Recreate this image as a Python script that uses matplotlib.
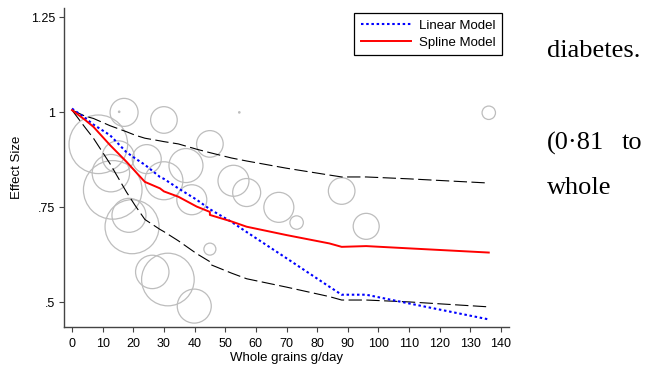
import matplotlib
matplotlib.use("Agg")
import matplotlib.pyplot as plt
import numpy as np

# ---- data ----
dose = [0, 4.3, 7, 12.4, 17.8, 20.6, 23.8, 28.7, 30, 34.7, 40.7, 45, 45,
        52, 57, 70, 84, 88, 96, 110, 136]
linear_model = [1.01, 0.985, 0.968, 0.94, 0.895, 0.879, 0.862, 0.83, 0.825, 0.80,
                0.77, 0.745, 0.745, 0.712, 0.685, 0.616, 0.541, 0.52, 0.52, 0.497, 0.455]
spline_model = [1.006, 0.98, 0.962, 0.914, 0.87, 0.845, 0.817, 0.80, 0.792, 0.778,
                0.752, 0.738, 0.730, 0.713, 0.699, 0.677, 0.655, 0.646, 0.648, 0.642, 0.631]
spline_upper = [1.006, 0.99, 0.984, 0.965, 0.949, 0.94, 0.932, 0.925, 0.923, 0.917,
                0.903, 0.894, 0.894, 0.88, 0.872, 0.853, 0.835, 0.830, 0.830, 0.825, 0.814]
spline_lower = [1.006, 0.96, 0.932, 0.865, 0.79, 0.755, 0.718, 0.692, 0.686, 0.662,
                0.628, 0.607, 0.600, 0.577, 0.562, 0.54, 0.515, 0.506, 0.506, 0.501, 0.488]

study_dose = [17, 30, 8.6, 45, 15.1, 24.4, 37.2, 12.7, 13.3, 30, 39.1, 18.6, 19.6,
              45, 26.2, 31.3, 39.9, 52.7, 57, 67.5, 73.3, 88, 96, 136, 15.4, 54.6]
study_effect = [1.00, 0.98, 0.916, 0.917, 0.883, 0.877, 0.86, 0.84, 0.796, 0.82,
                0.77, 0.729, 0.699, 0.64, 0.58, 0.56, 0.49, 0.82, 0.789, 0.75,
                0.71, 0.793, 0.70, 0.999, 1.0016, 1.0]
study_weight = [19.6, 17.7, 85.8, 17.7, 25.6, 21.0, 28.9, 35.0, 85.8, 36.1, 22.5,
                28.9, 72.9, 3.6, 27.9, 69.2, 28.9, 24.0, 19.6, 22.5, 4.5, 17.7,
                16.9, 4.5, 0.05, 0.05]

xticks = list(range(0, 141, 10))
yticks = [0.5, 0.75, 1.0, 1.25]
ytick_labels = [".5", ".75", "1", "1.25"]

# ---- figure ----
W, H = 655, 365
fig = plt.figure(figsize=(W / 100, H / 100), dpi=100)
ax_l, ax_r, ax_b, ax_t = 63.7, 509, 327, 8.3
ax = fig.add_axes([ax_l / W, 1 - ax_b / H, (ax_r - ax_l) / W, (ax_b - ax_t) / H])
ax.set_xlim(-2.7, 142.6)
ax.set_ylim(0.435, 1.274)

sans = ["Liberation Sans", "DejaVu Sans"]

# bubbles
sizes = np.array(study_weight) * 10 * (2 * 0.72) ** 2
ax.scatter(study_dose, study_effect, s=sizes, facecolors="none",
           edgecolors="#bdbdbd", linewidths=0.9, zorder=1)

# CI lines
ax.plot(dose, spline_upper, color="black", lw=0.8, dashes=(12, 4), zorder=2)
ax.plot(dose, spline_lower, color="black", lw=0.8, dashes=(12, 4), zorder=2)
ax.plot(dose, linear_model, color="blue", lw=1.5, linestyle=(0, (1.2, 1.3)),
        zorder=3, label="Linear Model")
ax.plot(dose, spline_model, color="red", lw=1.4, zorder=3, label="Spline Model")

for s in ["top", "right"]:
    ax.spines[s].set_visible(False)
for s in ["left", "bottom"]:
    ax.spines[s].set_color("#444444")
    ax.spines[s].set_linewidth(1.0)

ax.set_xticks(xticks)
ax.set_xticklabels([str(t) for t in xticks], fontfamily=sans, fontsize=9)
ax.set_yticks(yticks)
ax.set_yticklabels(ytick_labels, fontfamily=sans, fontsize=9)
ax.tick_params(axis="both", direction="out", length=3.6, width=0.8,
               color="#444444", pad=2.5)
ax.tick_params(axis="x", pad=4)
ax.set_xlabel("Whole grains g/day", fontfamily=sans, fontsize=9.5, labelpad=1.5)
ax.set_ylabel("Effect Size", fontfamily=sans, fontsize=9.5, labelpad=6)

leg = ax.legend(loc="upper left", bbox_to_anchor=(354 / W, 1 - 13 / H),
                bbox_transform=fig.transFigure, borderaxespad=0,
                fancybox=False, framealpha=1, edgecolor="black",
                prop={"family": sans, "size": 9.5}, handlelength=3.8,
                handletextpad=0.6, borderpad=0.5, labelspacing=0.35)
leg.get_frame().set_linewidth(0.9)

# right-hand body text fragments
serif = ["Liberation Serif", "DejaVu Serif"]
fig.text(547 / W, 1 - 56.7 / H, "diabetes.", fontfamily=serif, fontsize=19,
         va="baseline", ha="left")
fig.text(547 / W, 1 - 149.3 / H, "(0\u00b781", fontfamily=serif, fontsize=19,
         va="baseline", ha="left")
fig.text(621.7 / W, 1 - 149.3 / H, "to", fontfamily=serif, fontsize=19,
         va="baseline", ha="left")
fig.text(547 / W, 1 - 194.3 / H, "whole", fontfamily=serif, fontsize=19,
         va="baseline", ha="left")

fig.savefig("out.png", dpi=100)
